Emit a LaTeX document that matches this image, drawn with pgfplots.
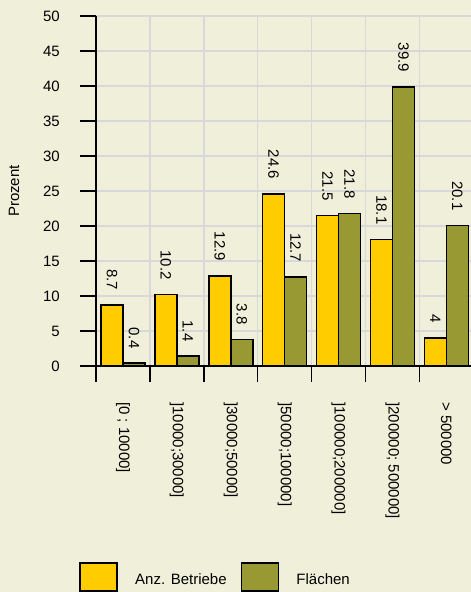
\documentclass[border=0pt]{standalone}
\usepackage{pgfplots}
\pgfplotsset{compat=1.18}
\usepackage{fontspec}
\setmainfont{Liberation Sans}
\definecolor{bgc}{RGB}{240,239,217}
\definecolor{gridc}{RGB}{216,216,216}
\definecolor{yel}{RGB}{255,204,0}
\definecolor{oli}{RGB}{153,153,51}
\begin{document}
\begin{tikzpicture}[font=\fontsize{15}{18}\selectfont]
\useasboundingbox (-96pt,-226pt) rectangle (375pt,366pt);
\fill[bgc] (-96pt,-226pt) rectangle (375pt,366pt);
\begin{axis}[
  scale only axis, width=377.3pt, height=350pt,
  xmin=-0.5, xmax=6.5, ymin=0, ymax=50,
  ytick={0,5,...,50},
  xtick={-0.5,0.5,...,6.5}, xticklabels={},
  extra x ticks={0,1,2,3,4,5,6},
  extra x tick labels={{[0 ; 10000]},{]10000;30000]},{]30000;50000]},{]50000;100000]},{]100000;200000]},{]200000; 500000]},{> 500000}},
  extra x tick style={major tick length=0pt, grid=none,
     tick label style={rotate=-90, anchor=west, inner sep=0pt, xshift=0pt}},
  xticklabel shift=36pt,
  axis x line*=bottom, axis y line*=left,
  axis line style={-, line width=1.6pt, black},
  tick align=outside, major tick length=16pt,
  tick style={line width=1.6pt, black},
  ymajorgrids, xmajorgrids,
  grid style={line width=1.6pt, gridc},
  yticklabel style={anchor=east, inner sep=0pt},
  yticklabel shift=20pt,
  /pgf/number format/assume math mode=true,
  ylabel={Prozent},
  ylabel style={at={(axis description cs:-0.2173,0.5)}, anchor=center},
  ybar=0pt, bar width=22pt,
  nodes near coords,
  every node near coord/.append style={yshift=14pt, rotate=-90, anchor=east, inner sep=0pt, font=\fontsize{15}{18}\selectfont},
  legend columns=2,
  legend image code/.code={\draw[#1, line width=1.6pt] (0pt,-11pt) rectangle (37pt,17pt); \path[draw=none, fill=none] (0pt,0pt) -- (53pt,0pt);},
  legend style={at={(axis description cs:-0.0445,-0.6029)}, anchor=west, draw=none, fill=none, inner sep=0pt,
     /tikz/every even column/.append style={column sep=12pt}},
]
\addplot[draw=black, fill=yel, line width=1.6pt] coordinates {(0,8.7) (1,10.2) (2,12.9) (3,24.6) (4,21.5) (5,18.1) (6,4)};
\addplot[draw=black, fill=oli, line width=1.6pt] coordinates {(0,0.4) (1,1.4) (2,3.8) (3,12.7) (4,21.8) (5,39.9) (6,20.1)};
\legend{Anz. Betriebe, Flächen}
\end{axis}
\end{tikzpicture}
\end{document}
